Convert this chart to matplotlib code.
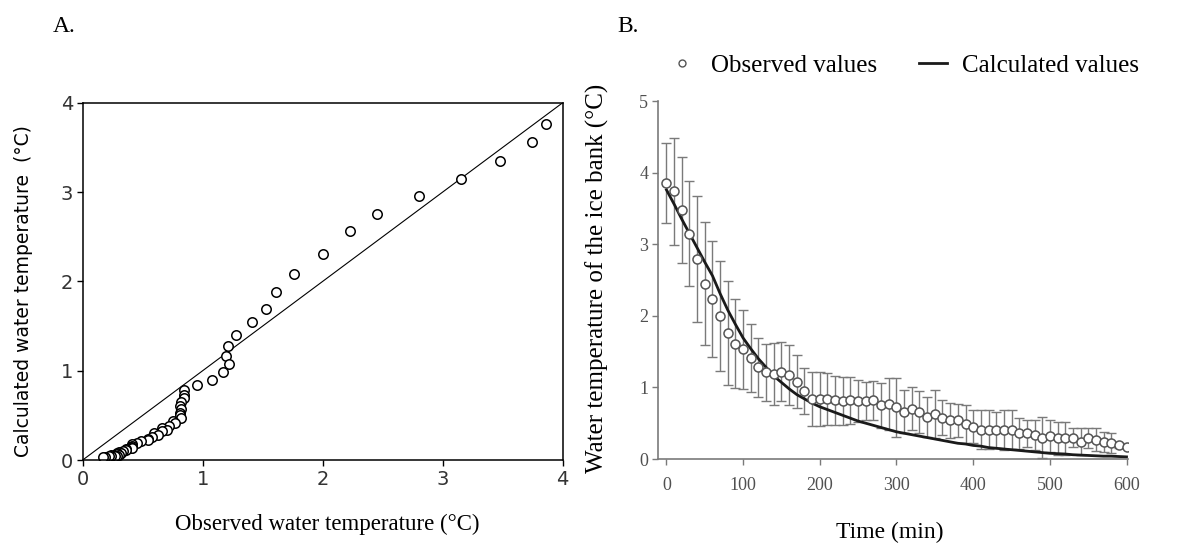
import numpy as np
from matplotlib import pyplot as plt
from matplotlib.lines import Line2D

# time of each reading (min)
time_min = list(range(0, 601, 10))

# observed ice bank water temperature (°C), mean of runs
observed = [3.86, 3.74, 3.48, 3.15, 2.80, 2.45, 2.23, 2.00, 1.76, 1.61,
            1.53, 1.41, 1.28, 1.21, 1.19, 1.22, 1.17, 1.08, 0.95, 0.84,
            0.84, 0.84, 0.82, 0.81, 0.82, 0.81, 0.81, 0.82, 0.75, 0.77,
            0.72, 0.66, 0.70, 0.66, 0.59, 0.63, 0.58, 0.54, 0.54, 0.49,
            0.45, 0.41, 0.41, 0.40, 0.40, 0.41, 0.36, 0.36, 0.34, 0.30,
            0.32, 0.29, 0.29, 0.30, 0.24, 0.29, 0.27, 0.24, 0.22, 0.19,
            0.17]

# standard deviation of the observed values
observed_sd = [0.56, 0.75, 0.74, 0.74, 0.88, 0.86, 0.81, 0.77, 0.72, 0.62,
               0.55, 0.48, 0.41, 0.40, 0.43, 0.41, 0.42, 0.37, 0.32, 0.38,
               0.38, 0.36, 0.34, 0.34, 0.33, 0.29, 0.27, 0.27, 0.31, 0.36,
               0.41, 0.30, 0.30, 0.29, 0.28, 0.33, 0.24, 0.24, 0.23, 0.26,
               0.23, 0.27, 0.27, 0.25, 0.28, 0.27, 0.22, 0.19, 0.21, 0.29,
               0.22, 0.23, 0.23, 0.13, 0.19, 0.14, 0.16, 0.14, 0.14, 0.03,
               0.0]

# model output (°C)
calculated = [3.76, 3.56, 3.35, 3.15, 2.95, 2.75, 2.56, 2.31, 2.08, 1.88,
              1.69, 1.54, 1.40, 1.28, 1.16, 1.07, 0.98, 0.90, 0.84, 0.78,
              0.73, 0.69, 0.65, 0.61, 0.57, 0.53, 0.50, 0.47, 0.44, 0.41,
              0.38, 0.36, 0.34, 0.32, 0.30, 0.28, 0.26, 0.24, 0.22, 0.21,
              0.19, 0.18, 0.16, 0.15, 0.14, 0.13, 0.12, 0.11, 0.10, 0.09,
              0.08, 0.075, 0.07, 0.06, 0.055, 0.05, 0.045, 0.04, 0.04, 0.035,
              0.03]

ticks_a = [0, 1, 2, 3, 4]
ticks_b_x = [0, 100, 200, 300, 400, 500, 600]
ticks_b_y = [0, 1, 2, 3, 4, 5]

plt.rcParams['font.family'] = ['Liberation Serif', 'DejaVu Serif']
SANS = ['DejaVu Sans']


# -------------------------------------------------------------------------------
# Panel A - calculated vs observed with the 1:1 line
# -------------------------------------------------------------------------------
def plot_panel_a(fig):
    ax = fig.add_axes([0.0702, 0.1544, 0.4075, 0.6568])
    ax.plot([0, 4], [0, 4], color='black', lw=0.8)
    ax.plot(observed, calculated, 'o', ms=6.8, mfc='white', mec='black', mew=1.1)

    ax.set_xlim(0, 4)
    ax.set_ylim(0, 4)
    ax.set_xticks(ticks_a)
    ax.set_yticks(ticks_a)
    ax.tick_params(direction='out', length=4, width=1, labelsize=14, pad=3,
                   labelcolor='#333333')
    for lbl in ax.get_xticklabels() + ax.get_yticklabels():
        lbl.set_family(SANS)
    for s in ax.spines.values():
        s.set_linewidth(1.1)

    ax.set_xlabel('Observed water temperature (°C)', fontsize=16.5, va='center')
    ax.xaxis.set_label_coords(0.51, -0.179)
    ax.set_ylabel('Calculated water temperature  (°C)', fontsize=13.5,
                  family=SANS, va='center')
    ax.yaxis.set_label_coords(-0.124, 0.473)
    fig.text(0.045, 0.952, 'A.', fontsize=17, va='center')


# -------------------------------------------------------------------------------
# Panel B - ice bank water temperature over time
# -------------------------------------------------------------------------------
def plot_panel_b(fig):
    grey = '#7a7a7a'
    ax = fig.add_axes([0.5586, 0.1562, 0.399, 0.658])
    ax.plot(time_min, calculated, color='#1a1a1a', lw=2, zorder=2)
    ax.errorbar(time_min, observed, yerr=observed_sd, fmt='none', ecolor=grey,
                elinewidth=1, capsize=3.5, capthick=1, zorder=1)
    ax.plot(time_min, observed, 'o', ms=6.5, mfc='white', mec='#555555',
            mew=1.1, zorder=3)

    ax.set_xlim(-11, 602)
    ax.set_ylim(0, 5)
    ax.set_xticks(ticks_b_x)
    ax.set_yticks(ticks_b_y)
    ax.spines['top'].set_visible(False)
    ax.spines['right'].set_visible(False)
    for side in ['left', 'bottom']:
        ax.spines[side].set_color(grey)
        ax.spines[side].set_linewidth(1.2)
    ax.tick_params(direction='out', length=4, width=1, color=grey,
                   labelcolor='#505050', labelsize=13)
    ax.tick_params(axis='x', pad=9)
    ax.tick_params(axis='y', pad=3)

    ax.set_xlabel('Time (min)', fontsize=17, va='center')
    ax.xaxis.set_label_coords(0.494, -0.204)
    ax.set_ylabel('Water temperature of the ice bank (°C)', fontsize=18,
                  va='center')
    ax.yaxis.set_label_coords(-0.13, 0.505)

    handles = [Line2D([], [], ls='none', marker='o', ms=5, mfc='white', mec='#555555'),
               Line2D([], [], color='#1a1a1a', lw=2)]
    fig.legend(handles, ['Observed values', 'Calculated values'], ncol=2,
               loc='center', bbox_to_anchor=(0.767, 0.88), frameon=False,
               fontsize=18, handlelength=1.1, columnspacing=1.7, handletextpad=0.6)
    fig.text(0.524, 0.952, 'B.', fontsize=17, va='center')


def main():
    fig = plt.figure(figsize=(11.78, 5.44), dpi=100)
    plot_panel_a(fig)
    plot_panel_b(fig)
    fig.savefig('out.png', dpi=100)


if __name__ == '__main__':
    main()
